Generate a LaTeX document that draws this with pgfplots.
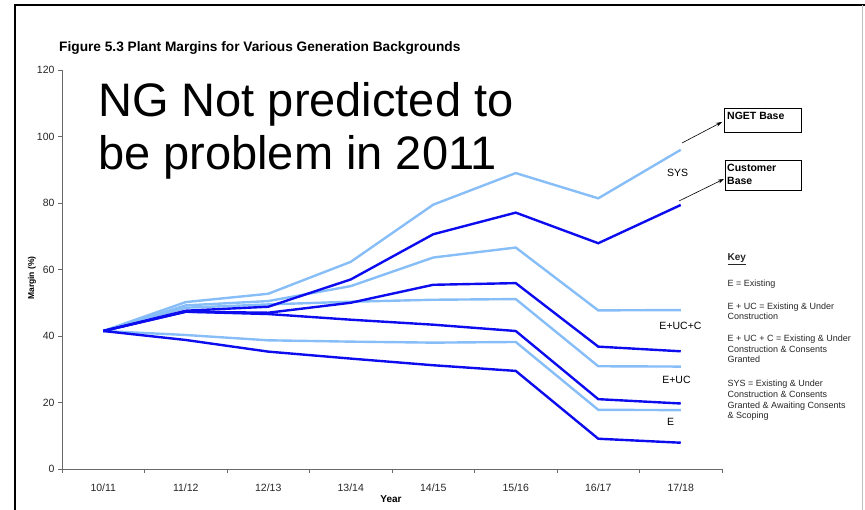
\documentclass[border=0pt]{standalone}
\usepackage{pgfplots}
\pgfplotsset{compat=1.18}
\usepackage{pgfplotstable}
\usepackage{fontspec}
\setmainfont{Liberation Sans}
\usetikzlibrary{arrows.meta}

\definecolor{ngetblue}{RGB}{135,190,248}
\definecolor{custblue}{RGB}{12,12,238}
\definecolor{axisgray}{RGB}{105,105,105}

% NGET Base (light lines)
\pgfplotstableread{
x  sys   eucc  euc   e
0  41.5  41.5  41.5  41.5
1  50.2  49.2  48.5  40.3
2  52.7  50.5  49.5  38.7
3  62.3  55.0  50.3  38.3
4  79.5  63.6  50.9  38.0
5  89.0  66.6  51.1  38.2
6  81.4  47.7  30.9  17.8
7  96.0  47.8  30.8  17.7
}\nget

% Customer Base (dark lines)
\pgfplotstableread{
x  sys   eucc  euc   e
0  41.5  41.5  41.5  41.5
1  47.6  47.3  47.3  38.8
2  48.8  47.0  46.6  35.3
3  57.0  50.0  44.9  33.2
4  70.6  55.4  43.4  31.2
5  77.1  55.9  41.5  29.5
6  67.9  36.8  21.0   9.1
7  79.4  35.4  19.7   7.9
}\cust

\begin{document}
\begin{tikzpicture}
\useasboundingbox (0,0) rectangle (865pt,510pt);
\begin{axis}[
    at={(62pt,41pt)}, anchor=south west,
    scale only axis, width=660pt, height=399pt,
    xmin=-0.5, xmax=7.5, ymin=0, ymax=120,
    axis x line*=bottom, axis y line*=left,
    axis line style={axisgray, line width=0.9pt},
    tick style={axisgray, line width=0.8pt},
    tick align=outside, major tick length=4pt,
    ytick={0,20,...,120},
    xtick={-0.5,0.5,...,7.5},
    xticklabels={10/11,11/12,12/13,13/14,14/15,15/16,16/17,17/18,{}},
    xticklabel style={xshift=41.25pt, yshift=-7pt},
    ticklabel style={font=\fontsize{10.5}{12}\selectfont, text=black!85},
    /pgf/number format/assume math mode=true,
    clip=false,
]
\addplot[ngetblue, line width=2.4pt] table[x=x,y=sys]{\nget};
\addplot[ngetblue, line width=2.4pt] table[x=x,y=eucc]{\nget};
\addplot[ngetblue, line width=2.4pt] table[x=x,y=euc]{\nget};
\addplot[ngetblue, line width=2.4pt] table[x=x,y=e]{\nget};
\addplot[custblue, line width=2.4pt] table[x=x,y=sys]{\cust};
\addplot[custblue, line width=2.4pt] table[x=x,y=eucc]{\cust};
\addplot[custblue, line width=2.4pt] table[x=x,y=euc]{\cust};
\addplot[custblue, line width=2.4pt] table[x=x,y=e]{\cust};
\end{axis}

\begin{scope}[x=1pt, y=-1pt, yshift=510pt, every node/.style={inner sep=0pt}]
% outer frame
\draw[line width=2.5pt] (15,515) -- (15,5) -- (870,5);
\draw[black!25, line width=0.8pt] (862,5) -- (862,510);

% title
\node[anchor=base west, font=\bfseries\fontsize{13.7}{16}\selectfont] at (59,51.5)
  {Figure 5.3 Plant Margins for Various Generation Backgrounds};

% overlay note
\node[anchor=base west, font=\fontsize{47}{53}\selectfont] at (98,117) {NG Not predicted to};
\node[anchor=base west, font=\fontsize{47}{53}\selectfont] at (98,170) {be problem in 2011};

% axis titles
\node[rotate=90, font=\bfseries\fontsize{8.5}{10}\selectfont] at (32,278) {Margin (\%)};
\node[anchor=base, font=\bfseries\fontsize{10}{12}\selectfont] at (391,503) {Year};

% series labels
\node[anchor=base, font=\fontsize{10.5}{12}\selectfont] at (677.5,176.7) {SYS};
\node[anchor=base, font=\fontsize{10.5}{12}\selectfont] at (680.5,330) {E+UC+C};
\node[anchor=base, font=\fontsize{10.5}{12}\selectfont] at (676.5,383.3) {E+UC};
\node[anchor=base, font=\fontsize{10.5}{12}\selectfont] at (670.5,426) {E};

% boxes and arrows
\draw[line width=0.8pt] (724,108) rectangle (801,132);
\node[anchor=base west, font=\bfseries\fontsize{10.5}{12}\selectfont] at (727,120) {NGET Base};
\draw[line width=0.8pt] (725.5,160) rectangle (801,190);
\node[anchor=base west, font=\bfseries\fontsize{10.5}{12}\selectfont] at (727,171.7) {Customer};
\node[anchor=base west, font=\bfseries\fontsize{10.5}{12}\selectfont] at (727,184.3) {Base};
\draw[line width=0.6pt, -{Stealth[length=6pt,width=4pt]}] (682,143) -- (722,122);
\draw[line width=0.6pt, -{Stealth[length=6pt,width=4pt]}] (679,201) -- (724,179);

% key
\begin{scope}[every node/.style={anchor=base west, inner sep=0pt, font=\fontsize{9}{11}\selectfont, text=black!85}]
\node[font=\bfseries\fontsize{10}{12}\selectfont] at (727.5,261) {\underline{Key}};
\node at (727.5,286.7) {E = Existing};
\node at (727.5,309.3) {E + UC = Existing \& Under};
\node at (727.5,320) {Construction};
\node at (727.5,341.7) {E + UC + C = Existing \& Under};
\node at (727.5,352.3) {Construction \& Consents};
\node at (727.5,362.7) {Granted};
\node at (727.5,386.7) {SYS = Existing \& Under};
\node at (727.5,397.3) {Construction \& Consents};
\node at (727.5,408.3) {Granted \& Awaiting Consents};
\node at (727.5,419) {\& Scoping};
\end{scope}
\end{scope}
\end{tikzpicture}
\end{document}
